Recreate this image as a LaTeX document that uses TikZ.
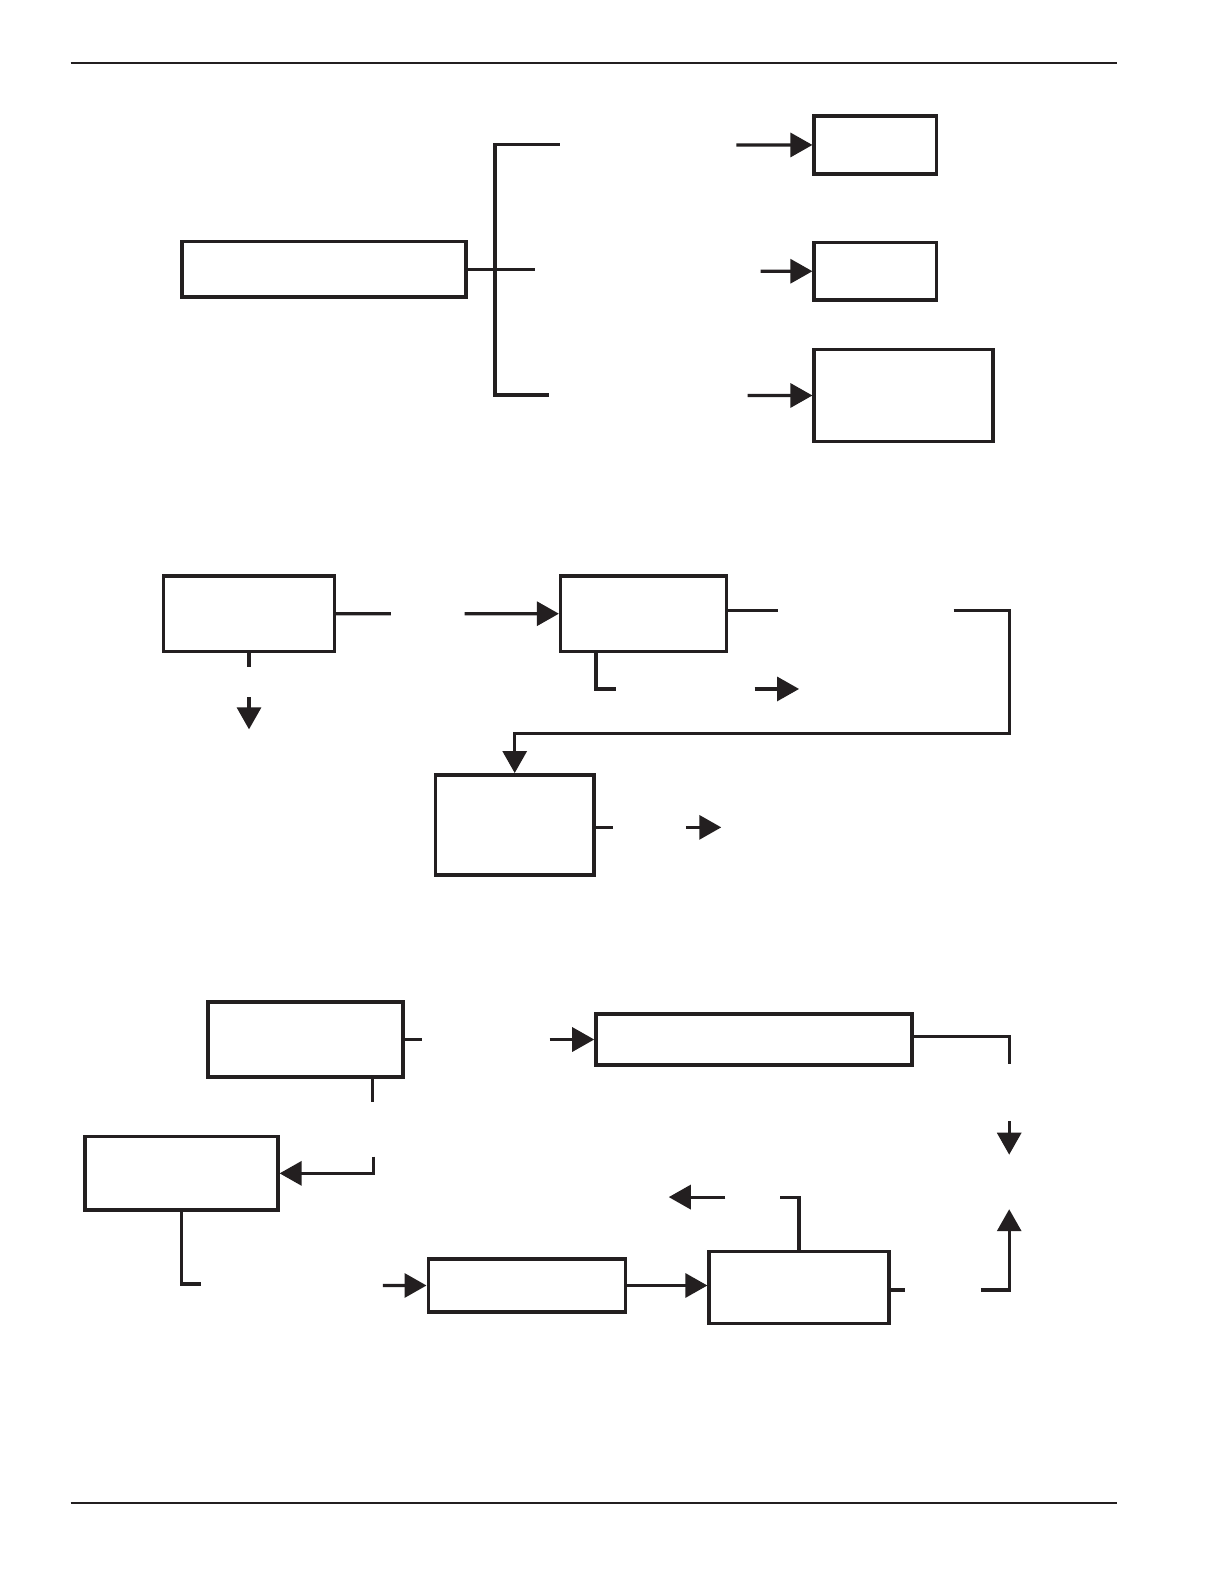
\documentclass[tikz,border=0pt]{standalone}
\usetikzlibrary{arrows.meta,fit}
\definecolor{ink}{RGB}{35,31,32}
\begin{document}
\begin{tikzpicture}[x=1.01pt,y=-1.01pt,
  box/.style={draw=ink, line width=3.6pt, inner sep=0pt},
  conn/.style={draw=ink, line width=3.2pt},
  arr/.style={conn, -{Triangle[length=22pt,width=24pt]}},
  rulestyle/.style={draw=ink, line width=1.8pt}]
\fill[white] (0,0) rectangle (1212,1568);
\useasboundingbox (0,0) rectangle (1212,1568);
% page rules
\coordinate (r1a) at (70,62); \coordinate (r1b) at (1106,62);
\coordinate (r2a) at (70,1488); \coordinate (r2b) at (1106,1488);
\draw[rulestyle] (r1a) -- (r1b);
\draw[rulestyle] (r2a) -- (r2b);

% ---------- top section ----------
\node[box, fit={(180,239)(461,294)}] (A) {};
\node[box, fit={(806,115)(927,172)}] (B1) {};
\node[box, fit={(806,240)(927,297)}] (B2) {};
\node[box, fit={(806,346)(983,437)}] (B3) {};
\coordinate (bt) at (490,143); \coordinate (bb) at (490,391);
\coordinate (t1) at (554,143); \coordinate (t2) at (530,268); \coordinate (t3) at (543,391);
\draw[conn] (t1) -- (bt) -- (bb) -- (t3);
\draw[conn] (A.east) -- (A.east -| t2);
\coordinate (s1) at (729,143.5); \coordinate (s2) at (753,268.5); \coordinate (s3) at (740,391.5);
\draw[arr] (s1) -- (B1.west);
\draw[arr] (s2) -- (B2.west);
\draw[arr] (s3) -- (B3.west);

% ---------- middle section ----------
\node[box, fit={(162,570)(331,645)}] (C1) {};
\node[box, fit={(555,570)(719,645)}] (C2) {};
\node[box, fit={(431,767)(588,866)}] (D) {};
\coordinate (m1) at (387,607.5);
\draw[conn] (C1.east) -- (m1);
\coordinate (m2) at (460,607.5);
\draw[arr] (m2) -- (C2.west);
\coordinate (m1b) at (246.5,660);
\draw[conn] (C1.south) -- (m1b);
\coordinate (m3) at (246.5,690); \coordinate (m3e) at (246.5,722);
\draw[arr] (m3) -- (m3e);
\coordinate (m4a) at (770,604); \coordinate (c2e) at (719,604);
\draw[conn] (c2e) -- (m4a);
\coordinate (m4) at (944,604); \coordinate (m5) at (999,726);
\draw[arr] (m4) -| (m5) -| (D.north);
\coordinate (c2s) at (590,645); \coordinate (m6) at (610,682);
\draw[conn] (c2s) |- (m6);
\coordinate (m7) at (747,682); \coordinate (m7e) at (791,682);
\draw[arr] (m7) -- (m7e);
\coordinate (de) at (588,819); \coordinate (m8) at (607,819);
\draw[conn] (de) -- (m8);
\coordinate (m9) at (679,819); \coordinate (m9e) at (714,819);
\draw[arr] (m9) -- (m9e);

% ---------- bottom section ----------
\node[box, fit={(206,992)(399,1066)}] (E) {};
\node[box, fit={(590,1004)(903,1054)}] (F) {};
\node[box, fit={(84,1125)(275,1198)}] (G) {};
\node[box, fit={(424,1246)(619,1299)}] (H) {};
\node[box, fit={(702,1239)(880,1310)}] (I) {};
\coordinate (e1) at (418,1029);
\draw[conn] (E.east) -- (e1);
\coordinate (e2) at (544,1029);
\draw[arr] (e2) -- (F.west);
\coordinate (f1) at (999,1053); \coordinate (fe) at (903,1026);
\draw[conn] (fe) -| (f1);
\coordinate (d1) at (999,1110); \coordinate (d1e) at (999,1143);
\draw[arr] (d1) -- (d1e);
\coordinate (u1) at (971,1277); \coordinate (u1e) at (999,1197);
\draw[arr] (u1) -| (u1e);
\coordinate (es) at (369,1066); \coordinate (es2) at (369,1091);
\draw[conn] (es) -- (es2);
\coordinate (g1) at (370,1145);
\draw[arr] (g1) |- (G.east);
\coordinate (g2) at (199,1271);
\draw[conn] (G.south) |- (g2);
\coordinate (h1) at (379,1272.5);
\draw[arr] (h1) -- (H.west);
\draw[arr] (H.east) -- (H.east -| I.west);
\coordinate (i1) at (772,1185);
\draw[conn] (I.north) |- (i1);
\coordinate (i2) at (718,1185); \coordinate (i2e) at (662,1185);
\draw[arr] (i2) -- (i2e);
\coordinate (ie) at (880,1277); \coordinate (i3) at (896,1277);
\draw[conn] (ie) -- (i3);
\end{tikzpicture}
\end{document}
